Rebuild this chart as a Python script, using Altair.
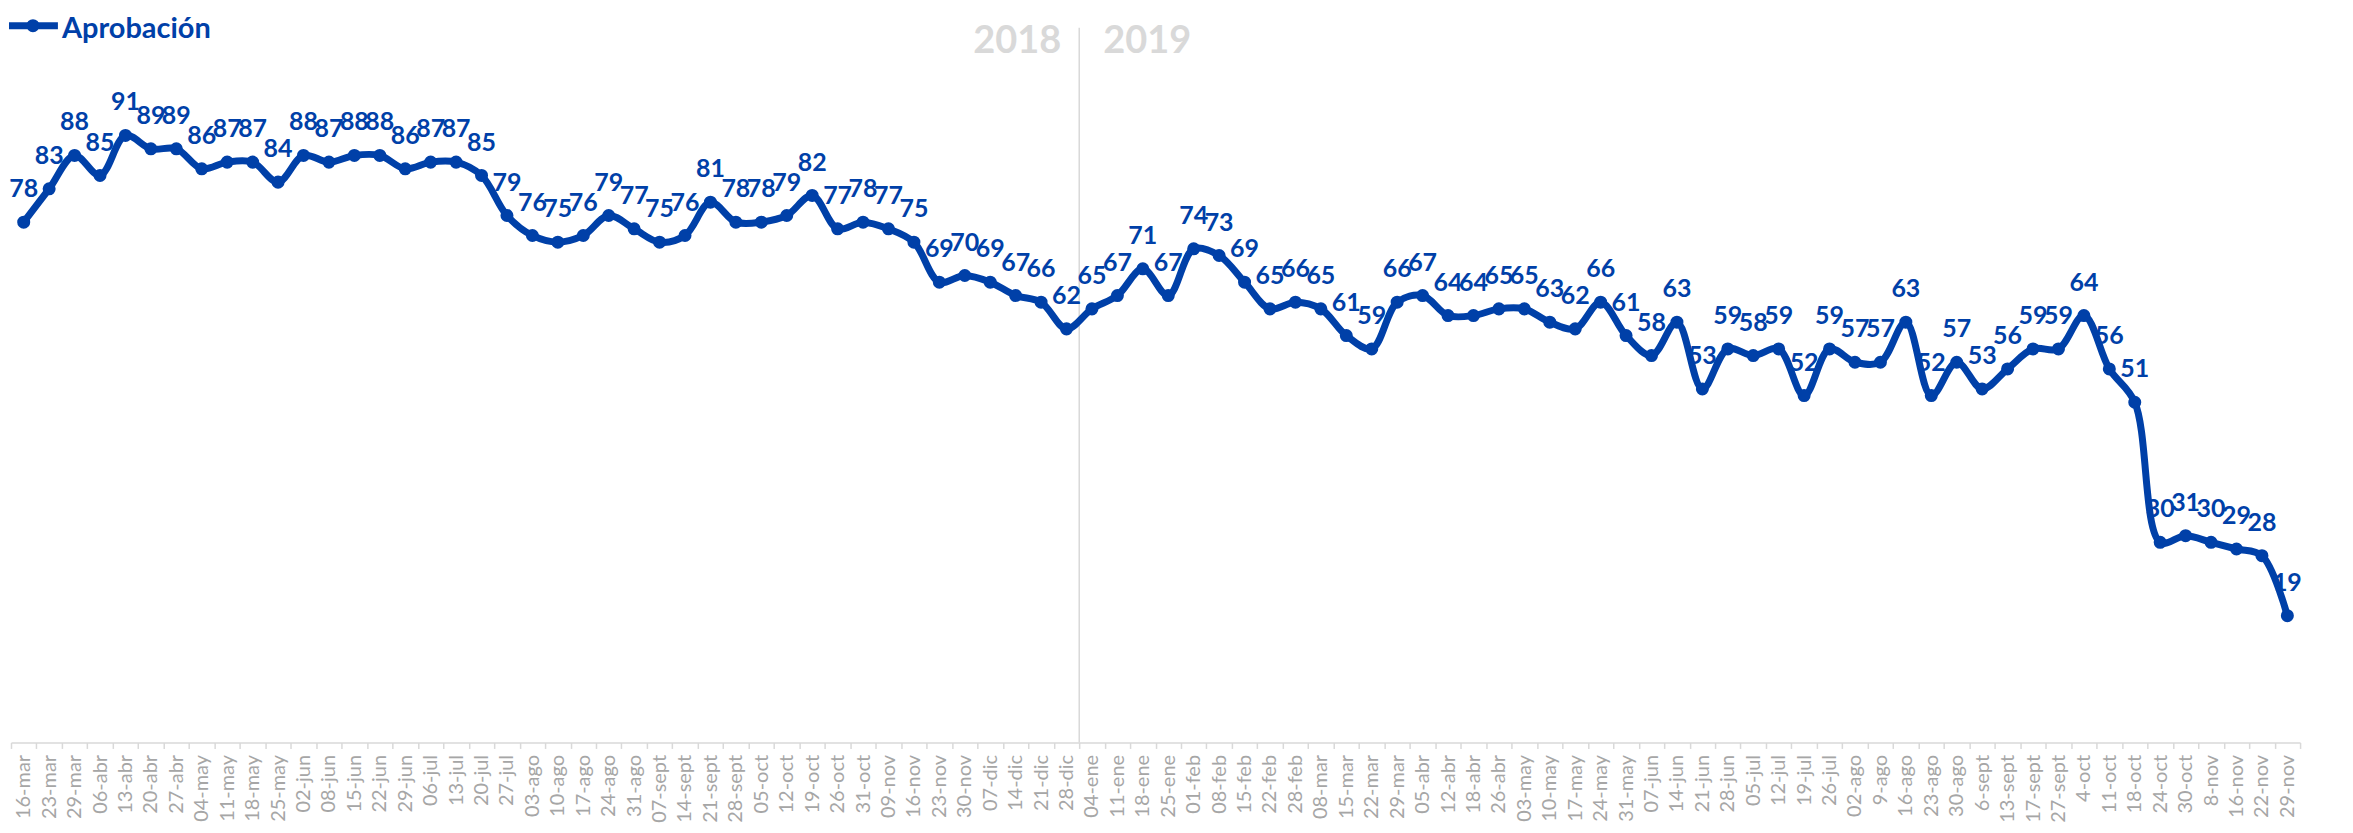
import json
import altair as alt
import pandas as pd

labels_2018 = ["16-mar", "23-mar", "29-mar", "06-abr", "13-abr", "20-abr", "27-abr", "04-may",
               "11-may", "18-may", "25-may", "02-jun", "08-jun", "15-jun", "22-jun", "29-jun",
               "06-jul", "13-jul", "20-jul", "27-jul", "03-ago", "10-ago", "17-ago", "24-ago",
               "31-ago", "07-sept", "14-sept", "21-sept", "28-sept", "05-oct", "12-oct", "19-oct",
               "26-oct", "31-oct", "09-nov", "16-nov", "23-nov", "30-nov", "07-dic", "14-dic",
               "21-dic", "28-dic"]
values_2018 = [78, 83, 88, 85, 91, 89, 89, 86, 87, 87, 84, 88, 87, 88, 88, 86, 87, 87, 85,
               79, 76, 75, 76, 79, 77, 75, 76, 81, 78, 78, 79, 82, 77, 78, 77, 75,
               69, 70, 69, 67, 66, 62]

labels_2019 = ["04-ene", "11-ene", "18-ene", "25-ene", "01-feb", "08-feb", "15-feb", "22-feb",
               "28-feb", "08-mar", "15-mar", "22-mar", "29-mar", "05-abr", "12-abr", "18-abr",
               "26-abr", "03-may", "10-may", "17-may", "24-may", "31-may", "07-jun", "14-jun",
               "21-jun", "28-jun", "05-jul", "12-jul", "19-jul", "26-jul", "02-ago", "9-ago",
               "16-ago", "23-ago", "30-ago", "6-sept", "13-sept", "17-sept", "27-sept", "4-oct",
               "11-oct", "18-oct", "24-oct", "30-oct", "8-nov", "16-nov", "22-nov", "29-nov"]
values_2019 = [65, 67, 71, 67, 74, 73, 69, 65, 66, 65, 61, 59, 66, 67, 64, 64, 65, 65, 63, 62,
               66, 61, 58, 63, 53, 59, 58, 59, 52, 59, 57, 57, 63, 52, 57, 53, 56, 59, 59, 64,
               56, 51, 30, 31, 30, 29, 28, 19]

series_name = "Aprobación"
year_labels = ["2018", "2019"]

labels = labels_2018 + labels_2019
values = values_2018 + values_2019
df = pd.DataFrame({"idx": list(range(len(labels))), "label": labels, "value": values})
split_idx = len(labels_2018) - 1

BLUE = "#0040A8"
GRAY_TXT = "#a6a6a6"
LIGHT = "#d9d9d9"
W = 2293
H = 735
YMAX = 110.0

xscale = alt.Scale(type="band", paddingInner=0, paddingOuter=0)
xaxis = alt.Axis(
    title=None,
    labelExpr=json.dumps(labels, ensure_ascii=False) + "[datum.value]",
    labelAngle=-90,
    labelColor=GRAY_TXT,
    labelFont="Lato",
    labelFontSize=20,
    labelPadding=6,
    labelOverlap=False,
    labelBound=False,
    tickColor=LIGHT,
    tickSize=6,
    tickWidth=1.5,
    tickBand="extent",
    domainColor=LIGHT,
    domainWidth=1.5,
    grid=False,
)
x_mid = alt.X("idx:O", scale=xscale, axis=xaxis, bandPosition=0.5)
y = alt.Y("value:Q", scale=alt.Scale(domain=[0, YMAX], nice=False, zero=True), axis=None)

base = alt.Chart(df)
line = base.mark_line(color=BLUE, strokeWidth=7, interpolate="catmull-rom").encode(x=x_mid, y=y)
pts = base.mark_point(filled=True, color=BLUE, size=170, opacity=1).encode(x=x_mid, y=y)
txt = base.mark_text(color=BLUE, font="Lato", fontWeight="bold", fontSize=25,
                     dy=-33, baseline="middle").encode(x=x_mid, y=y, text="value:Q")

split_df = pd.DataFrame({"idx": [split_idx]})
x_edge = alt.X("idx:O", bandPosition=1)
divider = alt.Chart(split_df).mark_rule(color=LIGHT, strokeWidth=1.5).encode(
    x=x_edge, y=alt.value(19), y2=alt.value(H))
y2018 = alt.Chart(split_df).mark_text(color=LIGHT, font="Lato", fontWeight="bold", fontSize=38,
                                      align="right", baseline="middle", dx=-18, text=year_labels[0]).encode(
    x=x_edge, y=alt.value(33))
y2019 = alt.Chart(split_df).mark_text(color=LIGHT, font="Lato", fontWeight="bold", fontSize=38,
                                      align="left", baseline="middle", dx=24, text=year_labels[1]).encode(
    x=x_edge, y=alt.value(33))

leg_df = pd.DataFrame({"name": [series_name]})
leg_line = alt.Chart(leg_df).mark_rule(color=BLUE, strokeWidth=7).encode(
    x=alt.value(-2), x2=alt.value(47), y=alt.value(17))
leg_pt = alt.Chart(leg_df).mark_point(filled=True, color=BLUE, size=170, opacity=1).encode(
    x=alt.value(22), y=alt.value(17))
leg_txt = alt.Chart(leg_df).mark_text(color=BLUE, font="Lato", fontWeight="bold", fontSize=29,
                                      align="left", baseline="middle").encode(
    x=alt.value(51), y=alt.value(20), text="name:N")

chart = alt.layer(divider, y2018, y2019, line, pts, txt, leg_line, leg_pt, leg_txt).properties(
    width=W,
    height=H,
    padding={"left": 3, "top": 0, "right": 45, "bottom": 82},
    autosize=alt.AutoSizeParams(type="none"),
).configure_view(stroke=None)

chart.save("out.html", embed_options={"renderer": "svg", "actions": False})
